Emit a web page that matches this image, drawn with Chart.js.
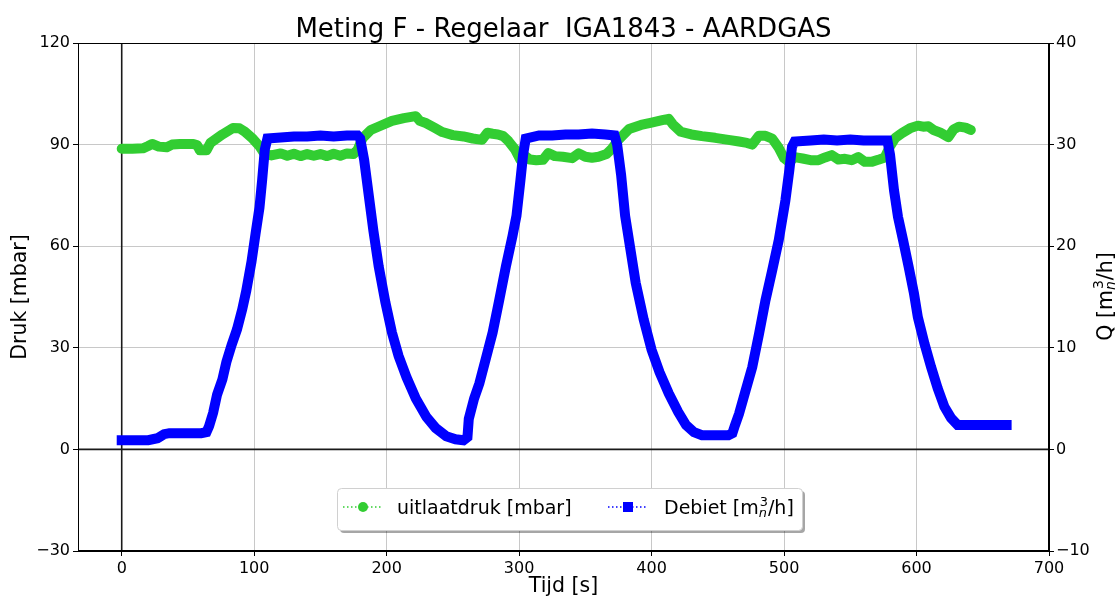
<!DOCTYPE html>
<html>
<head>
<meta charset="utf-8">
<script src="https://cdn.jsdelivr.net/npm/chart.js@4.4.1/dist/chart.umd.min.js"></script>
<style>
  body { margin: 0; background: #fff; }
  canvas { display: block; }
</style>
</head>
<body>
<canvas id="myChart" width="1118" height="599"></canvas>
<script>
// uitlaatdruk [mbar]
var tDruk = [0, 8, 16, 20, 23, 28, 34, 38, 44, 54, 57, 59, 64, 67, 76, 84, 89, 93, 99, 104,
  108, 113, 120, 125, 130, 135, 140, 145, 150, 155, 160, 165, 170, 175, 178, 182, 188, 195, 204, 213,
  222, 225, 230, 236, 242, 250, 258, 265, 272, 276, 280, 284, 288, 292, 297, 301, 305, 308, 313, 318,
  322, 327, 333, 340, 345, 350, 355, 360, 366, 370, 375, 383, 392, 400, 408, 413, 416, 422, 430, 438,
  448, 458, 466, 472, 476, 481, 486, 491, 496, 500, 504, 508, 514, 520, 526, 531, 536, 541, 546, 551,
  556, 561, 566, 571, 576, 580, 584, 589, 595, 601, 605, 609, 613, 618, 624, 628, 632, 637, 641];
var druk = [88.8, 88.8, 88.9, 89.6, 90.2, 89.4, 89.2, 90.0, 90.2, 90.2, 89.8, 88.3, 88.3, 90.5, 93.0, 94.9, 94.8, 93.8, 91.7, 89.5,
  87.2, 86.8, 87.4, 86.7, 87.3, 86.6, 87.2, 86.7, 87.2, 86.6, 87.3, 86.7, 87.4, 87.2, 88.4, 92.0, 94.3, 95.5, 97.0, 97.8,
  98.4, 97.0, 96.3, 95.0, 93.7, 92.8, 92.4, 91.8, 91.4, 93.5, 93.2, 93.0, 92.5, 91.0, 88.5, 85.5, 86.5, 85.6, 85.4, 85.5,
  87.5, 86.6, 86.4, 86.0, 87.4, 86.4, 86.1, 86.4, 87.2, 88.8, 91.4, 94.6, 95.8, 96.5, 97.2, 97.6, 96.0, 93.8, 93.0, 92.5,
  92.0, 91.4, 90.9, 90.5, 90.0, 92.6, 92.6, 91.8, 89.0, 86.0, 84.8, 86.3, 85.9, 85.4, 85.4, 86.2, 86.9, 85.6, 85.8, 85.4,
  86.3, 84.9, 84.9, 85.5, 86.2, 89.5, 92.0, 93.4, 94.8, 95.6, 95.3, 95.4, 94.3, 93.5, 92.2, 94.5, 95.3, 95.0, 94.3];

// Debiet [m3n/h]
var tDebiet = [0, 10, 20, 27, 32, 36, 50, 60, 64, 66, 69, 72, 76, 79, 83, 87, 91, 94, 98, 101,
  104, 106, 108, 110, 120, 130, 140, 150, 160, 170, 178, 180, 183, 187, 190, 194, 199, 204, 209, 215,
  222, 230, 237, 245, 252, 258, 261, 262, 266, 270, 275, 280, 285, 290, 295, 298, 301, 303, 305, 315,
  325, 335, 345, 355, 365, 372, 374, 377, 380, 384, 388, 394, 400, 406, 413, 420, 426, 432, 438, 448,
  458, 461, 463, 466, 471, 476, 481, 486, 491, 496, 501, 504, 506, 508, 520, 530, 540, 550, 560, 570,
  578, 580, 583, 586, 590, 594, 598, 601, 606, 611, 616, 621, 626, 631, 640, 650, 660, 668];
var debiet = [0.9, 0.9, 0.9, 1.1, 1.5, 1.6, 1.6, 1.6, 1.7, 2.3, 3.6, 5.4, 6.9, 8.6, 10.3, 11.8, 13.8, 15.6, 18.5, 21.2,
  23.8, 26.5, 29.5, 30.6, 30.7, 30.8, 30.8, 30.9, 30.8, 30.9, 30.9, 30.6, 28.5, 24.5, 21.5, 18.0, 14.5, 11.5, 9.2, 7.1,
  5.0, 3.2, 2.1, 1.3, 1.0, 0.9, 1.2, 3.0, 5.0, 6.5, 9.0, 11.5, 14.7, 18.0, 21.0, 23.0, 26.5, 29.0, 30.6, 30.9,
  30.9, 31.0, 31.0, 31.1, 31.0, 30.9, 30.0, 27.0, 23.0, 19.7, 16.4, 12.8, 9.8, 7.6, 5.5, 3.7, 2.4, 1.7, 1.4, 1.4,
  1.4, 1.6, 2.4, 3.5, 5.8, 8.1, 11.3, 14.7, 17.6, 20.6, 24.5, 27.5, 29.8, 30.3, 30.4, 30.5, 30.4, 30.5, 30.4, 30.4,
  30.4, 29.0, 25.5, 22.9, 20.5, 18.0, 15.4, 13.0, 10.4, 8.1, 6.0, 4.2, 3.1, 2.4, 2.4, 2.4, 2.4, 2.4];

var tijdTicks = [0, 100, 200, 300, 400, 500, 600, 700];
var drukTicks = [-30, 0, 30, 60, 90, 120];
var debietTicks = [-10, 0, 10, 20, 30, 40];

var titel = 'Meting F - Regelaar  IGA1843 - AARDGAS';
var FONT = "'DejaVu Sans', sans-serif";

function pts(ts, vs) {
  return ts.map(function (t, i) { return { x: t, y: vs[i] }; });
}
function fmt(v) {
  return v < 0 ? '\u2212' + Math.abs(v) : String(v);
}
function setTicks(list) {
  return function (scale) {
    scale.ticks = list.map(function (v) { return { value: v }; });
  };
}

// "pre" + stacked sup/sub + "post", like matplotlib mathtext
function mathWidth(ctx, size, pre, post) {
  ctx.font = size + 'px ' + FONT;
  var w1 = ctx.measureText(pre).width, w3 = ctx.measureText(post).width;
  ctx.font = (size * 0.68) + 'px ' + FONT;
  var w2 = ctx.measureText('3').width;
  return w1 + w2 + w3;
}
function drawMath(ctx, x, y, size, pre, post) {
  ctx.textAlign = 'left';
  ctx.textBaseline = 'alphabetic';
  ctx.font = size + 'px ' + FONT;
  ctx.fillText(pre, x, y);
  x += ctx.measureText(pre).width;
  var small = size * 0.68;
  ctx.font = small + 'px ' + FONT;
  ctx.fillText('3', x + 1, y - size * 0.42);
  var w2 = ctx.measureText('3').width;
  ctx.font = 'italic ' + small + 'px ' + FONT;
  ctx.fillText('n', x, y + size * 0.17);
  x += w2 + 1;
  ctx.font = size + 'px ' + FONT;
  ctx.fillText(post, x, y);
}

var decor = {
  id: 'decor',
  beforeDatasetsDraw: function (chart) {
    var ctx = chart.ctx, a = chart.chartArea;
    var x0 = chart.scales.x.getPixelForValue(0);
    var y0 = chart.scales.y.getPixelForValue(0);
    ctx.save();
    ctx.strokeStyle = '#1a1a1a';
    ctx.lineWidth = 1.6;
    ctx.beginPath();
    ctx.moveTo(x0, a.top); ctx.lineTo(x0, a.bottom);
    ctx.moveTo(a.left, y0); ctx.lineTo(a.right, y0);
    ctx.stroke();
    ctx.restore();
  },
  afterDraw: function (chart) {
    var ctx = chart.ctx, a = chart.chartArea;
    ctx.save();
    // frame
    ctx.strokeStyle = '#000';
    ctx.lineWidth = 1;
    ctx.strokeRect(a.left + 0.5, a.top + 0.5, a.right - a.left - 1, a.bottom - a.top - 1);

    // title
    ctx.fillStyle = '#000';
    ctx.font = '26px ' + FONT;
    ctx.textAlign = 'center';
    ctx.textBaseline = 'alphabetic';
    ctx.fillText(titel, (a.left + a.right) / 2, 37);

    // right axis label, rotated
    var cy = (a.top + a.bottom) / 2;
    ctx.save();
    ctx.translate(1112, cy);
    ctx.rotate(-Math.PI / 2);
    var w = mathWidth(ctx, 20.5, 'Q [m', '/h]');
    drawMath(ctx, -w / 2, 0, 20.5, 'Q [m', '/h]');
    ctx.restore();

    // legend box inside the plot
    var bx = 337, by = 488, bw = 465, bh = 42;
    ctx.fillStyle = 'rgba(0,0,0,0.35)';
    ctx.beginPath();
    ctx.roundRect(bx + 3, by + 3, bw, bh, 4);
    ctx.fill();
    ctx.fillStyle = '#fff';
    ctx.strokeStyle = '#d0d0d0';
    ctx.beginPath();
    ctx.roundRect(bx + 0.5, by + 0.5, bw, bh, 4);
    ctx.fill();
    ctx.stroke();

    var ly = by + 19;
    // green entry
    ctx.strokeStyle = '#32cd32';
    ctx.lineWidth = 1.5;
    ctx.setLineDash([1.5, 2.5]);
    ctx.beginPath(); ctx.moveTo(bx + 6, ly); ctx.lineTo(bx + 45, ly); ctx.stroke();
    ctx.setLineDash([]);
    ctx.fillStyle = '#32cd32';
    ctx.beginPath(); ctx.arc(bx + 26, ly, 5, 0, Math.PI * 2); ctx.fill();
    ctx.fillStyle = '#000';
    ctx.font = '19px ' + FONT;
    ctx.textAlign = 'left';
    ctx.fillText(chart.data.datasets[0].label, bx + 60, ly + 7);

    // blue entry
    ctx.strokeStyle = '#0000ff';
    ctx.setLineDash([1.5, 2.5]);
    ctx.beginPath(); ctx.moveTo(bx + 271, ly); ctx.lineTo(bx + 310, ly); ctx.stroke();
    ctx.setLineDash([]);
    ctx.fillStyle = '#0000ff';
    ctx.fillRect(bx + 286, ly - 5, 10, 10);
    ctx.fillStyle = '#000';
    drawMath(ctx, bx + 327, ly + 7, 19, 'Debiet [m', '/h]');
    ctx.restore();
  }
};

new Chart('myChart', {
  type: 'line',
  data: {
    datasets: [{
      label: 'uitlaatdruk [mbar]',
      data: pts(tDruk, druk),
      yAxisID: 'y',
      borderColor: '#32cd32',
      backgroundColor: '#32cd32',
      borderWidth: 10,
      borderCapStyle: 'round',
      borderJoinStyle: 'round',
      pointRadius: 0,
      tension: 0,
      order: 2
    }, {
      label: 'Debiet [m\u2099\u00b3/h]',
      data: pts(tDebiet, debiet),
      yAxisID: 'y2',
      borderColor: '#0000ff',
      backgroundColor: '#0000ff',
      borderWidth: 10,
      borderCapStyle: 'square',
      borderJoinStyle: 'miter',
      pointRadius: 0,
      tension: 0,
      order: 1
    }]
  },
  options: {
    responsive: false,
    animation: false,
    events: [],
    layout: { padding: { top: 43, left: 0, right: 0, bottom: 0 } },
    plugins: {
      legend: { display: false },
      title: { display: false },
      tooltip: { enabled: false }
    },
    scales: {
      x: {
        type: 'linear',
        min: -33,
        max: 700,
        afterBuildTicks: setTicks(tijdTicks),
        afterFit: function (s) { s.height = 48; },
        grid: { color: '#c8c8c8', lineWidth: 1, tickLength: 5, tickColor: '#000' },
        border: { color: '#000', width: 1 },
        ticks: { font: { family: FONT, size: 16 }, color: '#000', padding: 3, maxRotation: 0, callback: fmt },
        title: { display: true, text: 'Tijd [s]', font: { family: FONT, size: 20.5 }, color: '#000', padding: { top: 0, bottom: 0 } }
      },
      y: {
        position: 'left',
        min: -30,
        max: 120,
        afterBuildTicks: setTicks(drukTicks),
        afterFit: function (s) { s.width = 78; },
        grid: { color: '#c8c8c8', lineWidth: 1, tickLength: 5, tickColor: '#000' },
        border: { color: '#000', width: 1 },
        ticks: { font: { family: FONT, size: 16 }, color: '#000', padding: 3, callback: fmt },
        title: { display: true, text: 'Druk [mbar]', font: { family: FONT, size: 20.5 }, color: '#000', padding: { top: 8, bottom: 0 } }
      },
      y2: {
        position: 'right',
        min: -10,
        max: 40,
        afterBuildTicks: setTicks(debietTicks),
        afterFit: function (s) { s.width = 69; },
        grid: { drawOnChartArea: false, tickLength: 5, tickColor: '#000' },
        border: { color: '#000', width: 1 },
        ticks: { font: { family: FONT, size: 16 }, color: '#000', padding: 2, callback: fmt }
      }
    }
  },
  plugins: [decor]
});
</script>
</body>
</html>
